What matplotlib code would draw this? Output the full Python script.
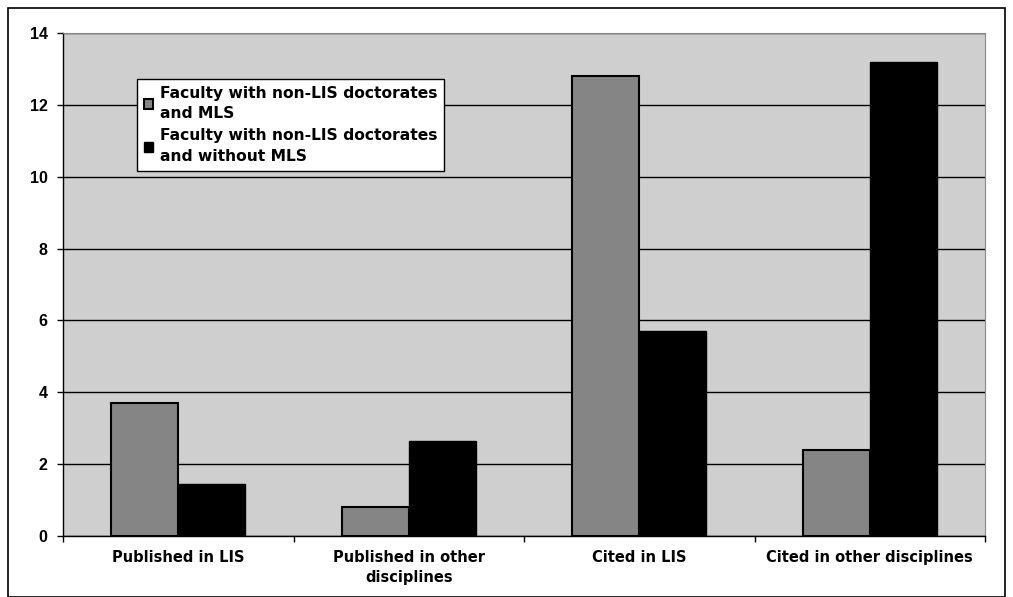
import matplotlib
matplotlib.use("Agg")
import matplotlib.pyplot as plt
import numpy as np
from matplotlib.patches import Rectangle

categories = ["Published in LIS", "Published in other\ndisciplines", "Cited in LIS", "Cited in other disciplines"]
series_names = ["Faculty with non-LIS doctorates\nand MLS", "Faculty with non-LIS doctorates\nand without MLS"]
with_mls = [3.7, 0.8, 12.8, 2.4]
without_mls = [1.45, 2.65, 5.7, 13.2]
yticks = [0, 2, 4, 6, 8, 10, 12, 14]

plt.rcParams['font.family'] = ['Liberation Sans', 'DejaVu Sans']

fig = plt.figure(figsize=(10.13, 5.97), dpi=100)
fig.patch.set_facecolor('white')
# outer frame
fig.patches.append(Rectangle((8/1013, 0.0), 997/1013, 1 - 8/597, transform=fig.transFigure,
                             fill=False, edgecolor='black', linewidth=1.2))

ax = fig.add_axes([63/1013, 1 - 536/597, (985 - 63)/1013, (536 - 33)/597])
ax.set_facecolor('#cfcfcf')

x = np.arange(len(categories))
w = 0.29
ax.bar(x - w/2, with_mls, width=w, color='#858585', edgecolor='black', linewidth=1.5,
       label=series_names[0], zorder=3)
ax.bar(x + w/2, without_mls, width=w, color='black', edgecolor='black', linewidth=1.0,
       label=series_names[1], zorder=3)

ax.set_xlim(-0.5, len(categories) - 0.5)
ax.set_ylim(0, 14)
ax.set_yticks(yticks)
ax.set_yticklabels([str(v) for v in yticks], fontsize=11.5, fontweight='bold')
ax.yaxis.grid(True, color='black', linewidth=1.0, zorder=1)
ax.set_axisbelow(True)

ax.set_xticks(x)
ax.set_xticklabels(categories, fontsize=10.5, fontweight='bold', linespacing=1.45,
                   family='DejaVu Sans')
ax.tick_params(axis='x', length=0, pad=10)
ax.set_xticks(np.arange(-0.5, len(categories)), minor=True)
ax.tick_params(axis='x', which='minor', length=4, width=1, direction='out')
ax.tick_params(axis='y', length=4, width=1, direction='out', pad=7)

for side in ['left', 'bottom']:
    ax.spines[side].set_linewidth(1.0)
    ax.spines[side].set_color('black')
ax.spines['right'].set_color('#888888')
ax.spines['top'].set_color('#888888')

leg = ax.legend(loc='upper left', bbox_to_anchor=((137 - 63)/922, (536 - 79)/503),
                prop={'family': 'DejaVu Sans', 'size': 11.2, 'weight': 'bold'},
                frameon=True, fancybox=False, edgecolor='black',
                framealpha=1, handlelength=0.6, handleheight=0.6, handletextpad=0.4,
                borderpad=0.45, labelspacing=0.45, borderaxespad=0)
leg.get_frame().set_linewidth(1.0)
for t in leg.get_texts():
    t.set_linespacing(1.45)

fig.savefig('out.png', dpi=100)
